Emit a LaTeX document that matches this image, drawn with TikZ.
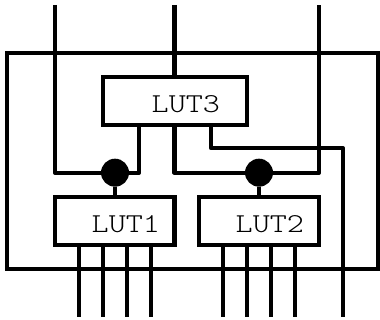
\documentclass[tikz,border=0pt]{standalone}
\newcommand{\lutname}[1]{\scalebox{1}[0.84]{#1}}
\tikzset{
  lutbox/.style={draw,line width=4.3pt,inner sep=0pt,outer sep=0pt},
  lutlabel/.style={anchor=base west,inner sep=0pt,font=\fontsize{32.5}{32.5}\selectfont\ttfamily\fontseries{l}\selectfont},
  wire/.style={line width=4.3pt,line join=round},
  dot/.style={circle,fill=black,inner sep=0pt,outer sep=0pt,minimum size=28pt}
}
\begin{document}
\begin{tikzpicture}[x=1pt,y=-1pt]
    \useasboundingbox (0,0) rectangle (380,320);

    % outer frame and blocks
    \node[lutbox,minimum width=371pt,minimum height=216pt] (frame) at (192.2,160.7) {};
    \node[lutbox,minimum width=143.7pt,minimum height=48pt] (lut3) at (175,101) {};
    \node[lutbox,minimum width=119.5pt,minimum height=48pt] (lut1) at (114.7,221) {};
    \node[lutbox,minimum width=120pt,minimum height=48pt] (lut2) at (259,221) {};
    \node[lutlabel] (lut3text) at (151.5,113) {\lutname{LUT3}};
    \node[lutlabel] (lut1text) at (91.5,232.7) {\lutname{LUT1}};
    \node[lutlabel] (lut2text) at (235.5,232.7) {\lutname{LUT2}};
    \node[dot] (mux1) at (115,172.7) {};
    \node[dot] (mux2) at (259,172.7) {};

    % free ends of the wires
    \coordinate (topa) at (55,5);
    \coordinate (topb) at (174.5,5);
    \coordinate (topc) at (319,5);
    \coordinate (outc) at (342.7,316.7);

    \draw[wire] (topa) |- (mux1);
    \draw[wire] (mux1) -| (lut3.south -| 139,0);
    \draw[wire] (topb) -- (lut3.north -| topb);
    \draw[wire] (lut3.south -| topb) |- (mux2);
    \draw[wire] (mux2) -| (topc);
    \draw[wire] (lut3.south -| 211,0) |- (342.7,148) -- (outc);
    \draw[wire] (mux1) -- (lut1.north -| mux1);
    \draw[wire] (mux2) -- (lut2.north -| mux2);

    % inputs of the two lower blocks
    \foreach \x in {79,102.7,126.7,150.7}
      \draw[wire] (lut1.south -| \x,0) -- (\x,316.7);
    \foreach \x in {222.7,246.7,270.7,294.7}
      \draw[wire] (lut2.south -| \x,0) -- (\x,316.7);
\end{tikzpicture}
\end{document}
